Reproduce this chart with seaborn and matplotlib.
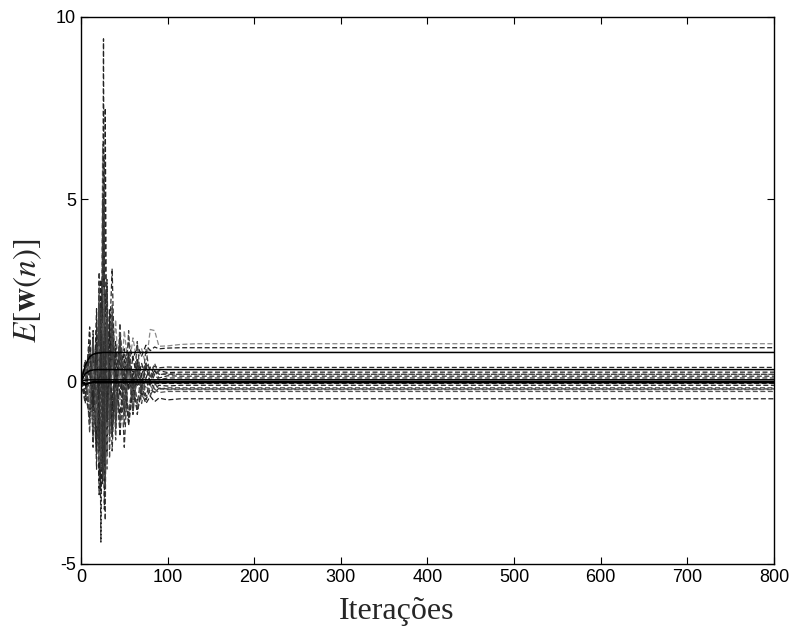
import numpy as np
import pandas as pd
import matplotlib
matplotlib.use("Agg")
import matplotlib.pyplot as plt
import seaborn as sns

# -------------------------
# Data: weight trajectories E[w(n)]
# -------------------------
iteracoes = [0, 5, 10, 14, 18, 21, 23, 25, 26, 27, 28, 30, 33, 36, 40, 45, 50,
             55, 60, 65, 70, 75, 80, 85, 90, 100, 115, 135, 800]

# dashed weights (oscillating transient)
w_d1 = [0, 0.1, -0.5, 0.9, -1.6, 2.4, -1.2, 6.5, 1.8, -1.4, 1.1, -0.7, 1.5, 0.2, 1.7,
        -0.5, 1.4, 0.3, 1.2, 0.5, 0.9, 0.45, 1.43, 1.40, 0.97, 0.98, 1.02, 1.04, 1.04]
w_d2 = [0, -0.1, 0.7, -1.1, 2.0, -2.6, 1.2, 3.0, 9.4, 0.8, -2.2, 2.6, -0.9, 1.9, -0.4,
        1.3, 0.2, 1.1, 0.6, 1.0, 0.7, 1.0, 0.85, 0.95, 0.9, 0.92, 0.93, 0.93, 0.93]
w_d3 = [0, 0.3, -1.2, 1.4, -2.4, 1.8, -4.4, 2.5, -1.0, 3.4, -1.8, 1.2, -1.1, 0.9, -0.6,
        1.0, -0.3, 0.8, 0.1, 0.6, 0.2, 0.5, 0.35, 0.42, 0.38, 0.4, 0.39, 0.39, 0.39]
w_d4 = [0, -0.4, 1.5, -0.8, 1.1, -3.1, 2.8, -1.5, 4.0, -2.0, 7.5, -1.2, 2.0, -0.8, 1.1,
        -0.4, 0.9, -0.2, 0.7, 0.0, 0.5, 0.1, 0.4, 0.2, 0.3, 0.25, 0.26, 0.26, 0.26]
w_d5 = [0, 0.5, -0.9, 0.6, -1.4, 3.0, -2.2, 5.0, -1.0, 6.2, -3.8, 2.4, -1.5, 1.0, -0.8,
        0.9, -0.5, 0.7, -0.2, 0.5, 0.0, 0.4, 0.1, 0.3, 0.2, 0.2, 0.2, 0.2, 0.2]
w_d6 = [0, -0.2, 0.4, -1.3, 1.6, -1.0, 2.2, -2.8, 1.5, -1.9, 2.4, -1.6, 1.2, 3.1, -1.0,
        1.2, -0.9, 0.8, -0.4, 0.6, -0.2, 0.4, 0.0, 0.3, 0.1, 0.16, 0.15, 0.15, 0.15]
w_d7 = [0, 0.2, 1.0, -0.5, -2.0, 1.4, -1.8, 2.0, -2.4, 1.6, -1.4, 2.8, -0.7, 1.6, -1.3,
        0.8, -1.8, 0.6, -0.9, 0.4, -0.3, 0.5, -0.1, 0.2, 0.05, 0.1, 0.1, 0.1, 0.1]
w_d8 = [0, -0.3, -1.0, 0.7, -1.9, 1.2, -3.0, 2.2, -1.3, -3.5, 1.3, -2.0, 1.8, -1.2, 0.9,
        -1.5, 0.6, -1.1, 0.3, -0.6, 0.2, -0.4, 0.0, -0.2, -0.1, -0.12, -0.1, -0.1, -0.1]
w_d9 = [0, 0.4, -0.3, 1.2, -0.9, 2.1, -1.6, 1.0, -2.6, 2.2, -2.9, 1.6, -2.1, 1.3, -1.6,
        1.1, -1.2, 0.5, -0.8, 0.3, -0.6, 0.1, -0.4, -0.05, -0.2, -0.17, -0.17, -0.17, -0.17]
w_d10 = [0, -0.1, 0.6, -1.5, 0.8, -2.2, 1.9, -1.2, 2.6, -1.0, 1.8, -2.4, 0.7, -1.4, 0.4,
         -1.1, 0.5, -0.9, 0.1, -0.7, 0.0, -0.5, -0.1, -0.3, -0.2, -0.22, -0.22, -0.22, -0.22]
w_d11 = [0, 0.3, -0.7, 0.4, -1.2, 0.9, -2.0, 1.6, -0.8, 1.1, -1.6, 0.8, -1.0, 0.6, -0.7,
         0.4, -0.6, 0.3, -0.5, 0.0, -0.4, -0.1, -0.35, -0.2, -0.3, -0.27, -0.27, -0.27, -0.27]
w_d12 = [0, -0.5, 0.9, -0.7, 1.3, -1.6, 1.0, -2.1, 0.6, -1.2, 0.9, -1.0, 0.5, -1.5, 0.2,
         -0.9, 0.1, -1.2, -0.2, -0.8, -0.3, -0.6, -0.4, -0.55, -0.45, -0.5, -0.47, -0.47, -0.47]
w_d13 = [0, 0.1, -0.4, 0.5, -0.7, 1.0, -1.1, 0.8, -0.5, 1.3, -0.9, 0.6, -0.6, 0.4, -0.4,
         0.3, -0.3, 0.2, -0.15, 0.1, -0.1, 0.05, 0.0, 0.02, -0.02, 0.0, 0.0, 0.0, 0.0]
w_d14 = [0, -0.2, 0.3, -0.6, 0.9, -0.4, 1.4, -0.9, 0.7, -0.6, 0.5, -0.8, 0.4, -0.5, 0.3,
         -0.3, 0.2, -0.2, 0.05, -0.1, 0.0, -0.1, -0.04, -0.06, -0.05, -0.05, -0.05, -0.05, -0.05]
w_d15 = [0, 0.6, -1.4, 1.1, -0.6, 2.6, -2.4, 1.3, -1.8, 2.0, -2.2, 1.9, -1.3, 2.1, -0.9,
         1.6, -0.7, 1.4, -0.5, 1.1, -0.3, 0.9, 0.1, 0.5, 0.2, 0.22, 0.2, 0.2, 0.2]
w_d16 = [0, -0.6, 1.1, -1.8, 1.0, -1.9, 2.0, -2.5, 1.1, -2.2, 1.5, -1.1, 0.9, -1.9, 0.6,
         -1.4, 0.4, -1.0, 0.1, -0.9, -0.1, -0.5, -0.2, -0.3, -0.18, -0.2, -0.2, -0.2, -0.2]

# solid weights (smooth convergence)
w_s1 = [0, 0.45, 0.68, 0.75, 0.78, 0.79, 0.79, 0.8, 0.8, 0.8, 0.8, 0.8, 0.8, 0.8, 0.8,
        0.8, 0.8, 0.8, 0.8, 0.8, 0.8, 0.8, 0.8, 0.8, 0.8, 0.8, 0.8, 0.8, 0.8]
w_s2 = [0, 0.22, 0.3, 0.32, 0.33, 0.33, 0.33, 0.33, 0.33, 0.33, 0.33, 0.33, 0.33, 0.33, 0.33,
        0.33, 0.33, 0.33, 0.33, 0.33, 0.33, 0.33, 0.33, 0.33, 0.33, 0.33, 0.33, 0.33, 0.33]
w_s3 = [0, 0.04, 0.05, 0.05, 0.05, 0.05, 0.05, 0.05, 0.05, 0.05, 0.05, 0.05, 0.05, 0.05, 0.05,
        0.05, 0.05, 0.05, 0.05, 0.05, 0.05, 0.05, 0.05, 0.05, 0.05, 0.05, 0.05, 0.05, 0.05]
w_s4 = [0, -0.1, -0.03, 0.0, 0.0, 0.0, 0.0, 0.0, 0.0, 0.0, 0.0, 0.0, 0.0, 0.0, 0.0,
        0.0, 0.0, 0.0, 0.0, 0.0, 0.0, 0.0, 0.0, 0.0, 0.0, 0.0, 0.0, 0.0, 0.0]
w_s5 = [0, -0.06, -0.04, -0.03, -0.03, -0.03, -0.03, -0.03, -0.03, -0.03, -0.03, -0.03, -0.03,
        -0.03, -0.03, -0.03, -0.03, -0.03, -0.03, -0.03, -0.03, -0.03, -0.03, -0.03, -0.03,
        -0.03, -0.03, -0.03, -0.03]

tracejados = [w_d1, w_d2, w_d3, w_d4, w_d5, w_d6, w_d7, w_d8, w_d9, w_d10,
              w_d11, w_d12, w_d13, w_d14, w_d15, w_d16]
solidos = [w_s1, w_s2, w_s3, w_s4, w_s5]

# -------------------------
# Plot
# -------------------------
sns.set_style("ticks")
plt.rcParams["font.family"] = ["Liberation Sans", "DejaVu Sans"]
plt.rcParams["mathtext.fontset"] = "stix"
plt.rcParams["axes.unicode_minus"] = False

fig = plt.figure(figsize=(7.97, 6.3), dpi=100)
ax = fig.add_axes([0.1016, 0.1048, 0.8695, 0.8683])

tons = ["#8a8a8a", "#222222", "#2a2a2a", "#222222", "#3a3a3a", "#2a2a2a", "#333333",
        "#222222", "#444444", "#666666", "#555555", "#222222", "#7a7a7a", "#2a2a2a",
        "#444444", "#333333"]
for w, cor in zip(tracejados, tons):
    sns.lineplot(x=iteracoes, y=w, ax=ax, color=cor, lw=0.9, dashes=(4, 2),
                 estimator=None, sort=False)

for w in solidos:
    sns.lineplot(x=iteracoes, y=w, ax=ax, color="black", lw=1.1,
                 estimator=None, sort=False)

ax.set_xlim(0, 800)
ax.set_ylim(-5, 10)
ax.set_xticks(range(0, 801, 100))
ax.set_yticks([-5, 0, 5, 10])
ax.tick_params(direction="in", length=5, width=0.8, labelsize=13,
               top=True, right=True, colors="black")
for s in ax.spines.values():
    s.set_linewidth(1.0)
    s.set_color("black")

ax.set_xlabel("Iterações", fontsize=23, family="Liberation Serif", va="center")
ax.xaxis.set_label_coords(0.456, -0.086)
ax.set_ylabel(r"$E[\mathbf{w}(n)]$", fontsize=24, va="center")
ax.yaxis.set_label_coords(-0.077, 0.5)

fig.savefig("out.png", dpi=100)
